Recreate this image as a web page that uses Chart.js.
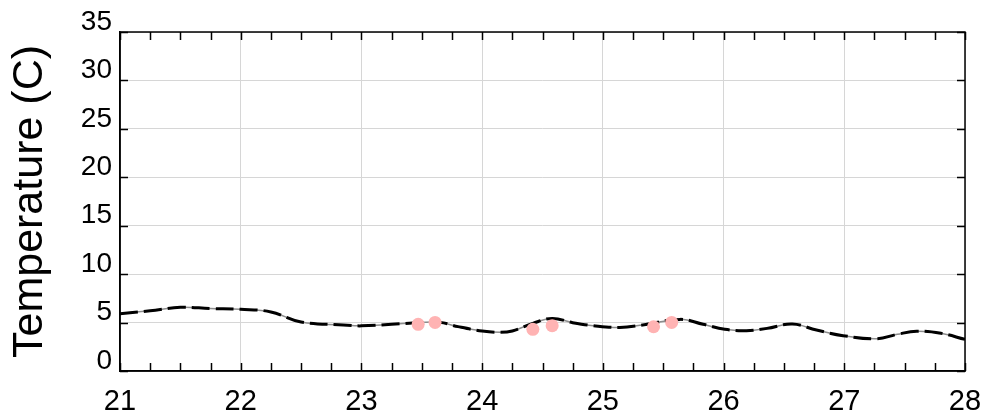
<!DOCTYPE html>
<html>
<head>
<meta charset="utf-8">
<script src="https://cdn.jsdelivr.net/npm/chart.js@4.4.1/dist/chart.umd.min.js"></script>
<style>
  html, body { margin: 0; padding: 0; background: #fff; }
  #wrap { width: 985px; height: 416px; }
</style>
</head>
<body>
<div id="wrap"><canvas id="tempChart"></canvas></div>
<script>
// temperature trace
const lineX = [21.0, 21.25, 21.5, 21.75, 22.0, 22.25, 22.5, 22.85, 23.0, 23.25, 23.48, 23.65, 23.8, 24.0, 24.15, 24.25, 24.42, 24.58, 24.75, 24.92, 25.14, 25.33, 25.64, 25.83, 26.01, 26.19, 26.36, 26.57, 26.77, 26.99, 27.27, 27.44, 27.6, 27.8, 28.0];
const lineY = [5.92, 6.22, 6.57, 6.45, 6.37, 6.1, 5.06, 4.75, 4.66, 4.82, 4.99, 5.02, 4.58, 4.13, 3.99, 4.13, 4.92, 5.43, 4.99, 4.68, 4.5, 4.75, 5.33, 4.82, 4.3, 4.16, 4.4, 4.85, 4.23, 3.65, 3.33, 3.79, 4.1, 3.89, 3.27];

// pink sample points
const sampleX = [23.47, 23.61, 24.42, 24.58, 25.42, 25.57];
const sampleY = [4.82, 5.02, 4.3, 4.68, 4.57, 5.02];

const xTicks = [21, 22, 23, 24, 25, 26, 27, 28];
const yTicks = [0, 5, 10, 15, 20, 25, 30, 35];

document.addEventListener("DOMContentLoaded", function () {
  const trace = lineX.map((x, i) => ({ x: x, y: lineY[i] }));
  const samples = sampleX.map((x, i) => ({ x: x, y: sampleY[i] }));

  // frame + inward tick marks
  const framePlugin = {
    id: "frame",
    afterDraw(chart) {
      const { ctx, chartArea: a, scales } = chart;
      ctx.save();
      ctx.strokeStyle = "#000";
      ctx.lineWidth = 1.5;
      ctx.strokeRect(a.left, a.top, a.right - a.left, a.bottom - a.top);
      ctx.beginPath();
      for (let v = xTicks[0]; v <= xTicks[xTicks.length - 1] + 1e-9; v += 0.25) {
        const px = Math.round(scales.x.getPixelForValue(v)) + 0.5;
        ctx.moveTo(px, a.bottom);
        ctx.lineTo(px, a.bottom - 8);
        ctx.moveTo(px, a.top);
        ctx.lineTo(px, a.top + 8);
      }
      yTicks.forEach((v) => {
        const py = Math.round(scales.y.getPixelForValue(v)) + 0.5;
        ctx.moveTo(a.left, py);
        ctx.lineTo(a.left + 8, py);
        ctx.moveTo(a.right, py);
        ctx.lineTo(a.right - 8, py);
      });
      ctx.stroke();
      ctx.restore();
    },
  };

  const ctx = document.getElementById("tempChart").getContext("2d");
  new Chart(ctx, {
    type: "line",
    data: {
      datasets: [
        {
          label: "samples",
          type: "scatter",
          data: samples,
          backgroundColor: "#ffb3b3",
          borderWidth: 0,
          pointRadius: 6.5,
          order: 0,
        },
        {
          label: "trace",
          data: trace,
          borderColor: "#000",
          borderWidth: 3,
          borderDash: [18, 6],
          pointRadius: 0,
          tension: 0.4,
          fill: false,
          order: 1,
        },
        {
          label: "trace base",
          data: trace,
          borderColor: "#8c8c8c",
          borderWidth: 1.5,
          pointRadius: 0,
          tension: 0.4,
          fill: false,
          order: 2,
        },
      ],
    },
    options: {
      responsive: true,
      maintainAspectRatio: false,
      animation: false,
      layout: { padding: { top: 32, right: 20, left: 0, bottom: 0 } },
      plugins: {
        legend: { display: false },
        tooltip: { enabled: false },
      },
      scales: {
        x: {
          type: "linear",
          min: 21,
          max: 28,
          afterFit(scale) {
            scale.height = 45;
            scale.paddingLeft = 0;
            scale.paddingRight = 0;
          },
          afterBuildTicks(scale) { scale.ticks = xTicks.map((v) => ({ value: v })); },
          ticks: {
            color: "#000",
            font: { family: "Liberation Sans, Arial", size: 29 },
            padding: 14,
            maxRotation: 0,
          },
          grid: { color: "#d6d6d6", lineWidth: 1, drawTicks: false },
          border: { color: "#000", width: 1.5 },
        },
        y: {
          min: 0,
          max: 35,
          afterFit(scale) {
            scale.width = 120;
            scale.paddingTop = 0;
            scale.paddingBottom = 0;
          },
          afterBuildTicks(scale) { scale.ticks = yTicks.map((v) => ({ value: v })); },
          ticks: {
            color: "#000",
            font: { family: "Liberation Sans, Arial", size: 28 },
            padding: 8,
            labelOffset: -10,
          },
          grid: { color: "#d6d6d6", lineWidth: 1, drawTicks: false },
          border: { color: "#000", width: 1.5 },
          title: {
            display: true,
            text: "Temperature (C)",
            color: "#000",
            font: { family: "Liberation Sans, Arial", size: 43 },
            padding: { top: 4, bottom: 0 },
          },
        },
      },
    },
    plugins: [framePlugin],
  });
});
</script>
</body>
</html>
